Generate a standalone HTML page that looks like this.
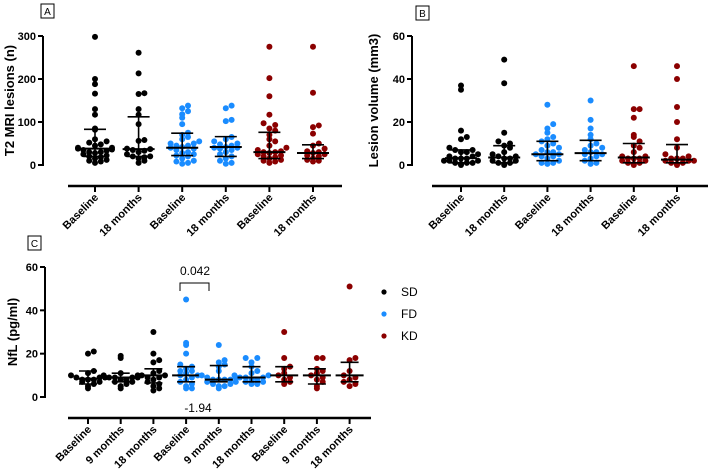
<!DOCTYPE html>
<html><head><meta charset="utf-8"><style>
body{margin:0;background:#fff;}
svg{display:block;font-family:"Liberation Sans",Arial,sans-serif;}
</style></head><body>
<svg id="fig" width="708" height="474" viewBox="0 0 708 474" xmlns="http://www.w3.org/2000/svg"></svg>
<script>
const COLORS=["#000000","#000000","#1a8cff","#1a8cff","#8b0000","#8b0000"];
const COLORS_C=["#000000","#000000","#000000","#1a8cff","#1a8cff","#1a8cff","#8b0000","#8b0000","#8b0000"];
const catsAB=["Baseline","18 months","Baseline","18 months","Baseline","18 months"];
const catsC=["Baseline","9 months","18 months","Baseline","9 months","18 months","Baseline","9 months","18 months"];
const ticksA=[0,100,200,300];
const ticksB=[0,20,40,60];
const ticksC=[0,20,40,60];
const valuesA=[
[298,200,188,166,130,117,85,82,52,48,45,40,38,36,35,33,30,28,25,22,20,18,15,12,10,8,5,30,40,60,55],
[261,213,167,165,130,117,95,58,56,38,37,35,33,30,25,20,18,15,10,5,20],
[138,132,125,118,110,95,75,70,65,60,55,50,45,42,40,38,35,30,28,25,22,20,15,10,8,5,3,45,50],
[138,132,105,102,65,60,55,50,45,42,40,38,35,30,25,20,15,10,5,3,40,48],
[275,202,160,117,97,93,85,80,70,60,55,45,40,35,32,30,28,25,22,20,18,15,12,10,8,5,30],
[275,168,92,88,73,50,45,38,32,28,25,22,20,15,12,10,8,30]];
const medianA=[38,37,40,42,30,28], q1A=[20,20,22,20,15,15], q3A=[83,112,74,66,76,47];
const valuesB=[
[37,35,16,13,12,8,7,6,5,4,3,3,2,2,1,1,0.5,0,4,3,2,6,7,1],
[49,38,15,11,10,9,8,6,5,4,3,3,2,1,1,0.5,0,4,2],
[28,19,17,15,13,12,11,10,9,8,7,6,5,4,4,3,2,1,1,0.5,5,6],
[30,21,17,14,12,10,9,8,7,6,5,4,3,2,1,0.5,6,5],
[46,26,26,22,14,13,11,9,8,6,4,3,3,2,1,1,0.5,0,3,4,2],
[46,40,27,20,12,8,5,4,3,3,2,2,1,1,0.5,0,3,2]];
const medianB=[3.2,3.5,5,5.5,3.5,2.5], q1B=[1,1,2,2,1,1], q3B=[7,9,11,11.5,10,9.5];
const valuesC=[
[21,20,12,11,10,9,9,8,8,7,7,6,5,4,8,9],
[19,18,11,10,9,9,9,8,8,7,7,6,5,4,9,10],
[30,20,17,16,12,11,10,9,9,8,7,6,5,4,3,10],
[45,25,24,20,15,14,13,12,11,10,10,9,8,7,6,5,4,4,12],
[24,17,16,15,14,12,10,9,8,8,8,7,7,6,6,5,5,4,8,9],
[18,18,16,14,12,11,10,9,9,8,8,7,7,6,6,9,10],
[30,18,14,13,11,10,9,8,7,6],
[18,18,13,12,11,10,9,8,7,5,4],
[51,18,17,12,10,9,8,7,6,5]];
const medianC=[8.5,9,10,10,8,9,10,10,10], q1C=[6,7,6.5,7,7,7,7,6,7], q3C=[12,11,13,14,14.5,14,14,13,16];
const legendNames=["SD","FD","KD"];
const legendColors=["#000000","#1a8cff","#8b0000"];

const NS="http://www.w3.org/2000/svg";
const svg=document.getElementById('fig');
function mk(tag,attrs,parent){const e=document.createElementNS(NS,tag);for(const k in attrs)e.setAttribute(k,attrs[k]);(parent||svg).appendChild(e);return e;}

function panel(p){
  const g=mk('g',{});
  
  
  const ymax=p.ticks[p.ticks.length-1];
  const y=v=>p.y0-(v/ymax)*(p.y0-p.yTop);
  const x=i=>p.xFirst+i*p.step;
  const ya=mk('line',{x1:p.ax,x2:p.ax,y1:p.yTop,y2:p.y0+1,stroke:'#000','stroke-width':2},g);
  
  p.ticks.forEach(t=>{
    mk('line',{x1:p.ax-5,x2:p.ax,y1:y(t),y2:y(t),stroke:'#000','stroke-width':2},g);
    const tl=mk('text',{x:p.ax-7,y:y(t)+4,'text-anchor':'end','font-size':11,'font-weight':'bold'},g);
    tl.textContent=t;
    
  });
  const yt=mk('text',{x:0,y:0,'text-anchor':'middle','font-size':13,'font-weight':'bold',transform:`translate(${p.ylx},${(p.y0+p.yTop)/2}) rotate(-90)`},g);
  yt.textContent=p.ylabel;
  
  const xa=mk('line',{x1:p.xl,x2:p.xr,y1:p.xAxisY,y2:p.xAxisY,stroke:'#000','stroke-width':2.5},g);
  
  p.cats.forEach((c,i)=>{
    mk('line',{x1:x(i),x2:x(i),y1:p.xAxisY,y2:p.xAxisY+6,stroke:'#000','stroke-width':2},g);
    const tl=mk('text',{x:0,y:0,'text-anchor':'end','font-size':11,'font-weight':'bold',transform:`translate(${x(i)+4},${p.xAxisY+12}) rotate(-45)`},g);
    tl.textContent=c;
    
  });
  p.values.forEach((arr,i)=>{
    const gg=mk('g',{},g);
    
    const sorted=arr.slice().sort((a,b)=>a-b);
    const bins={};
    sorted.forEach(v=>{
      const py=y(v);const b=Math.round(py/6);
      const k=bins[b]||0;bins[b]=k+1;
      const off=(k===0?0:(k%2?1:-1)*Math.ceil(k/2)*5.8);
      const c=mk('circle',{cx:x(i)+Math.max(-17,Math.min(17,off)),cy:py,r:3,fill:p.colors[i]},gg);
      
    });
    const eb=mk('g',{stroke:'#000','stroke-width':1.6},g);
    
    mk('line',{x1:x(i),x2:x(i),y1:y(p.q1[i]),y2:y(p.q3[i])},eb);
    mk('line',{x1:x(i)-p.capW,x2:x(i)+p.capW,y1:y(p.q1[i]),y2:y(p.q1[i])},eb);
    mk('line',{x1:x(i)-p.capW,x2:x(i)+p.capW,y1:y(p.q3[i]),y2:y(p.q3[i])},eb);
    mk('line',{x1:x(i)-p.medW,x2:x(i)+p.medW,y1:y(p.median[i]),y2:y(p.median[i]),'stroke-width':2},eb);
  });
  const bx=mk('g',{},g);
  
  mk('rect',{x:p.bx,y:p.by,width:13,height:14,fill:'#fff',stroke:'#000','stroke-width':1},bx);
  const bt=mk('text',{x:p.bx+6.5,y:p.by+11,'text-anchor':'middle','font-size':10},bx);
  bt.textContent=p.letter;
}

panel({name:'panel-a',letter:'A',bx:41,by:4,cats:catsAB,values:valuesA,median:medianA,q1:q1A,q3:q3A,colors:COLORS,
  ticks:ticksA,ylabel:'T2 MRI lesions (n)',ylx:14,ax:43,y0:165,yTop:36,xl:68,xr:342,xAxisY:186,xFirst:95,step:43.6,capW:11,medW:16});
panel({name:'panel-b',letter:'B',bx:416,by:6,cats:catsAB,values:valuesB,median:medianB,q1:q1B,q3:q3B,colors:COLORS,
  ticks:ticksB,ylabel:'Lesion volume (mm3)',ylx:378,ax:412,y0:165,yTop:36,xl:432,xr:708,xAxisY:186,xFirst:461,step:43.2,capW:11,medW:16});
panel({name:'panel-c',letter:'C',bx:28,by:236,cats:catsC,values:valuesC,median:medianC,q1:q1C,q3:q3C,colors:COLORS_C,
  ticks:ticksC,ylabel:'NfL  (pg/ml)',ylx:17,ax:45,y0:397,yTop:267,xl:68,xr:371,xAxisY:418,xFirst:88,step:32.7,capW:9,medW:14});

const br=mk('path',{d:'M180,291 L180,283 L209,283 L209,291',fill:'none',stroke:'#000','stroke-width':1});

const p1=mk('text',{x:195,y:275,'text-anchor':'middle','font-size':12});
p1.textContent='0.042';

const d1=mk('text',{x:198,y:412,'text-anchor':'middle','font-size':12});
d1.textContent='-1.94';


legendNames.forEach((nm,i)=>{
  const lg=mk('g',{});
  
  mk('circle',{cx:384,cy:292+i*22,r:2.6,fill:legendColors[i]},lg);
  const t=mk('text',{x:401,y:296+i*22,'font-size':12},lg);
  t.textContent=nm;
});
</script>
</body></html>
